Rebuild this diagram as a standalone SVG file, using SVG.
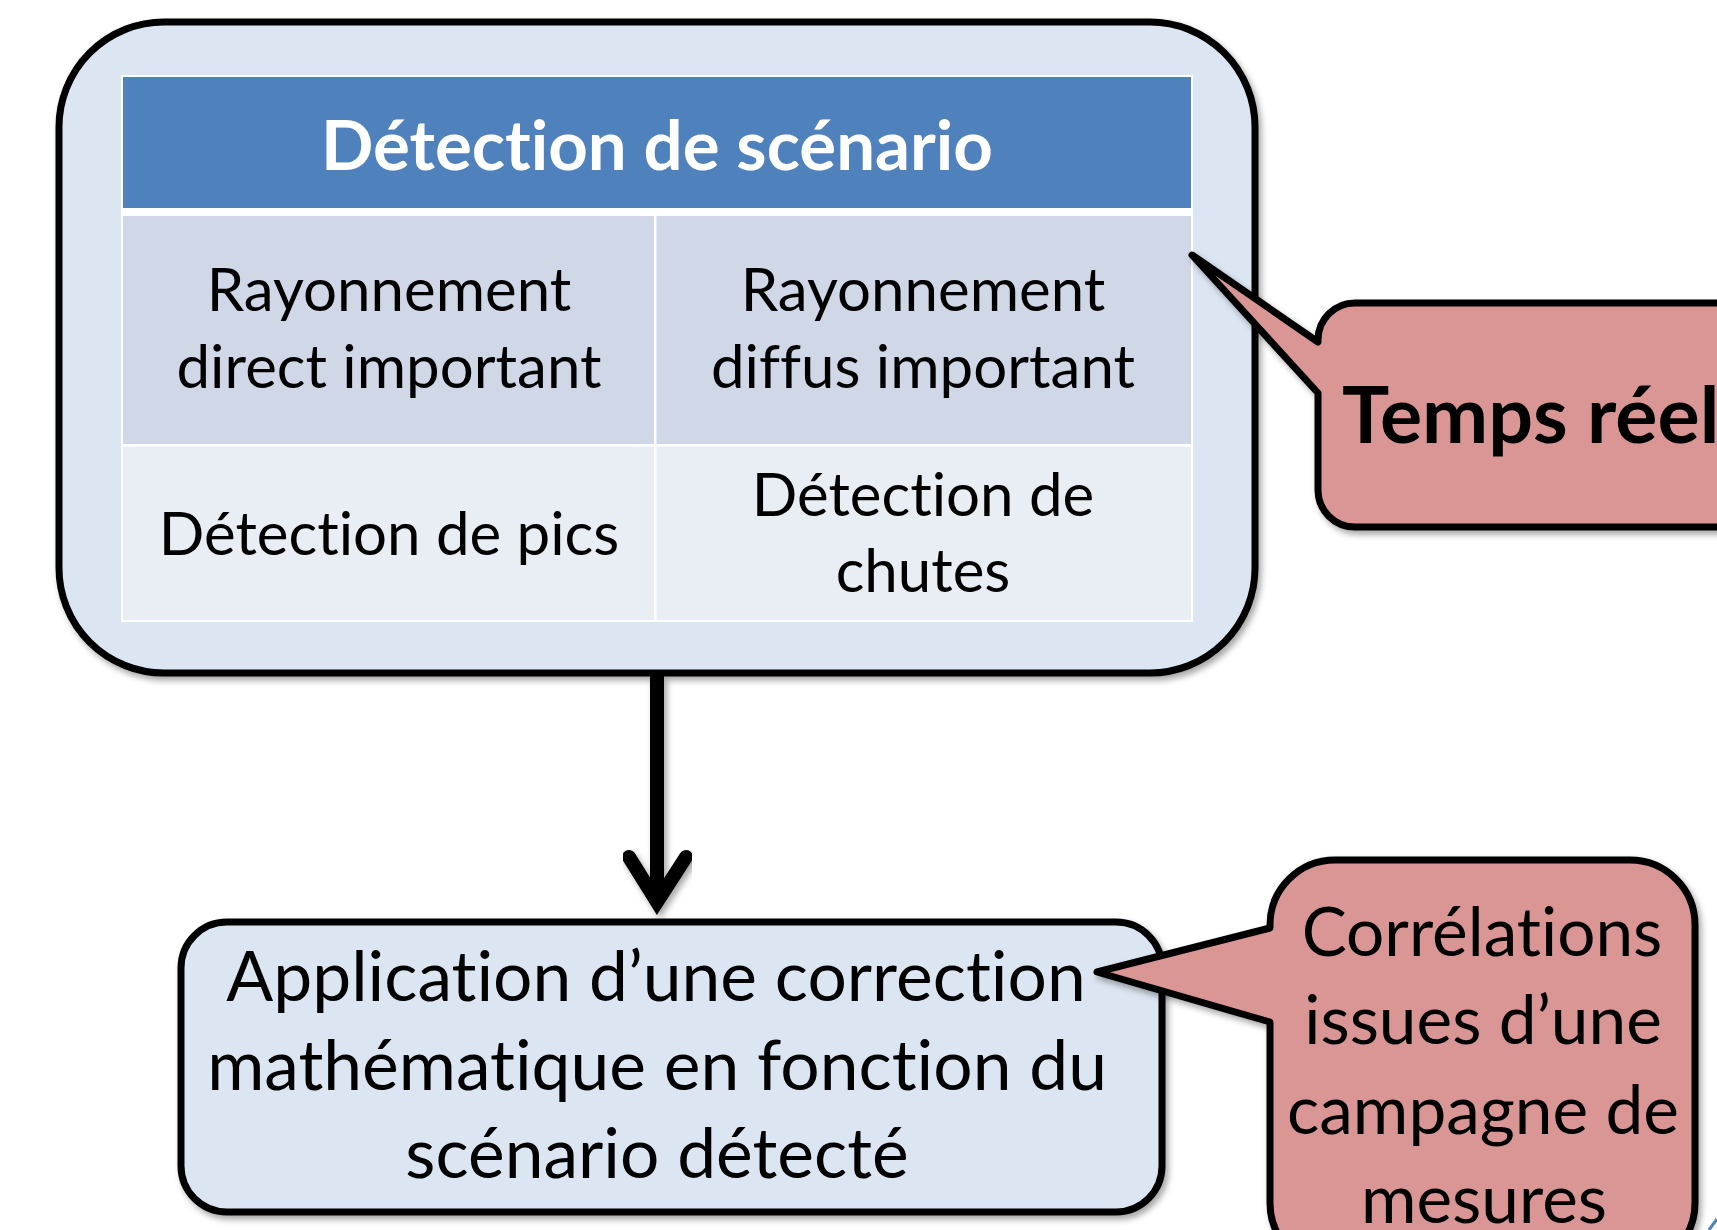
<svg xmlns="http://www.w3.org/2000/svg" width="1717" height="1230" viewBox="0 0 1717 1230">
<defs>
<filter id="sh" x="-10%" y="-10%" width="120%" height="120%">
<feDropShadow dx="3" dy="4" stdDeviation="3" flood-color="#000" flood-opacity="0.35"/>
</filter>
<style>
.box{fill:#DCE6F2;stroke:#000;stroke-width:7}
.call{fill:#D99694;stroke:#000;stroke-width:7;stroke-linejoin:round}
.t{font-family:Lato,"Liberation Sans",sans-serif;fill:#000;text-anchor:middle;font-variant-ligatures:none;font-feature-settings:"liga" 0,"clig" 0}
.cell{font-size:60px}
.big{font-size:69.5px}
.cor{font-size:67.5px}
.hdr{font-size:69px;font-weight:bold;fill:#fff}
</style>
</defs>
<rect width="1717" height="1230" fill="#fff"/>

<g id="outer">
<rect class="box" x="59" y="22" width="1196" height="651" rx="105" filter="url(#sh)"/>
<rect x="121" y="75" width="1072" height="547" fill="#fff"/>
<rect x="123" y="77" width="1068" height="131" fill="#4F81BD"/>
<rect x="123" y="216" width="531" height="228" fill="#D0D8E8"/>
<rect x="656.5" y="216" width="534.5" height="228" fill="#D0D8E8"/>
<rect x="123" y="446.5" width="531" height="173.5" fill="#E9EDF4"/>
<rect x="656.5" y="446.5" width="534.5" height="173.5" fill="#E9EDF4"/>
<text class="t hdr" x="657" y="170">Détection de scénario</text>
<text class="t cell" x="389" y="311">Rayonnement</text>
<text class="t cell" x="389" y="388">direct important</text>
<text class="t cell" x="923" y="311">Rayonnement</text>
<text class="t cell" x="923" y="388">diffus important</text>
<text class="t cell" x="389" y="555">Détection de pics</text>
<text class="t cell" x="923" y="516">Détection de</text>
<text class="t cell" x="923" y="592">chutes</text>
</g>

<g id="connectors" filter="url(#sh)">
<line x1="657" y1="676" x2="657" y2="900" stroke="#000" stroke-width="14"/>
<polyline points="629,857 657,902 686,857" fill="none" stroke="#000" stroke-width="14" stroke-linecap="round" stroke-linejoin="miter"/>
</g>

<g id="correction">
<rect class="box" x="181" y="922" width="981" height="290" rx="46" filter="url(#sh)"/>
<text class="t big" x="656" y="1001">Application d’une correction</text>
<text class="t big" x="657" y="1090">mathématique en fonction du</text>
<text class="t big" x="657" y="1178">scénario détecté</text>
</g>

<g id="temps-reel">
<path class="call" filter="url(#sh)" d="M1192,255 L1318,342 L1318,340 A37,37 0 0 1 1355,303 H1760 V527 H1355 A37,37 0 0 1 1318,490 V393 Z"/>
<text class="t" x="1342" y="443" style="font-size:79px;font-weight:bold;text-anchor:start">Temps réel</text>
</g>

<g id="correlations">
<path class="call" filter="url(#sh)" d="M1097,972 L1270,928 L1270,925 A65,65 0 0 1 1335,860 H1630 A65,65 0 0 1 1695,925 V1203 A65,65 0 0 1 1630,1268 H1335 A65,65 0 0 1 1270,1203 V1022 Z"/>
<text class="t cor" x="1482" y="956">Corrélations</text>
<text class="t cor" x="1483" y="1044">issues d’une</text>
<text class="t cor" x="1483" y="1134">campagne de</text>
<text class="t cor" x="1484" y="1223">mesures</text>
</g>

<path d="M1709,1230 L1717,1219" stroke="#4F81BD" stroke-width="3" fill="none"/>
</svg>
